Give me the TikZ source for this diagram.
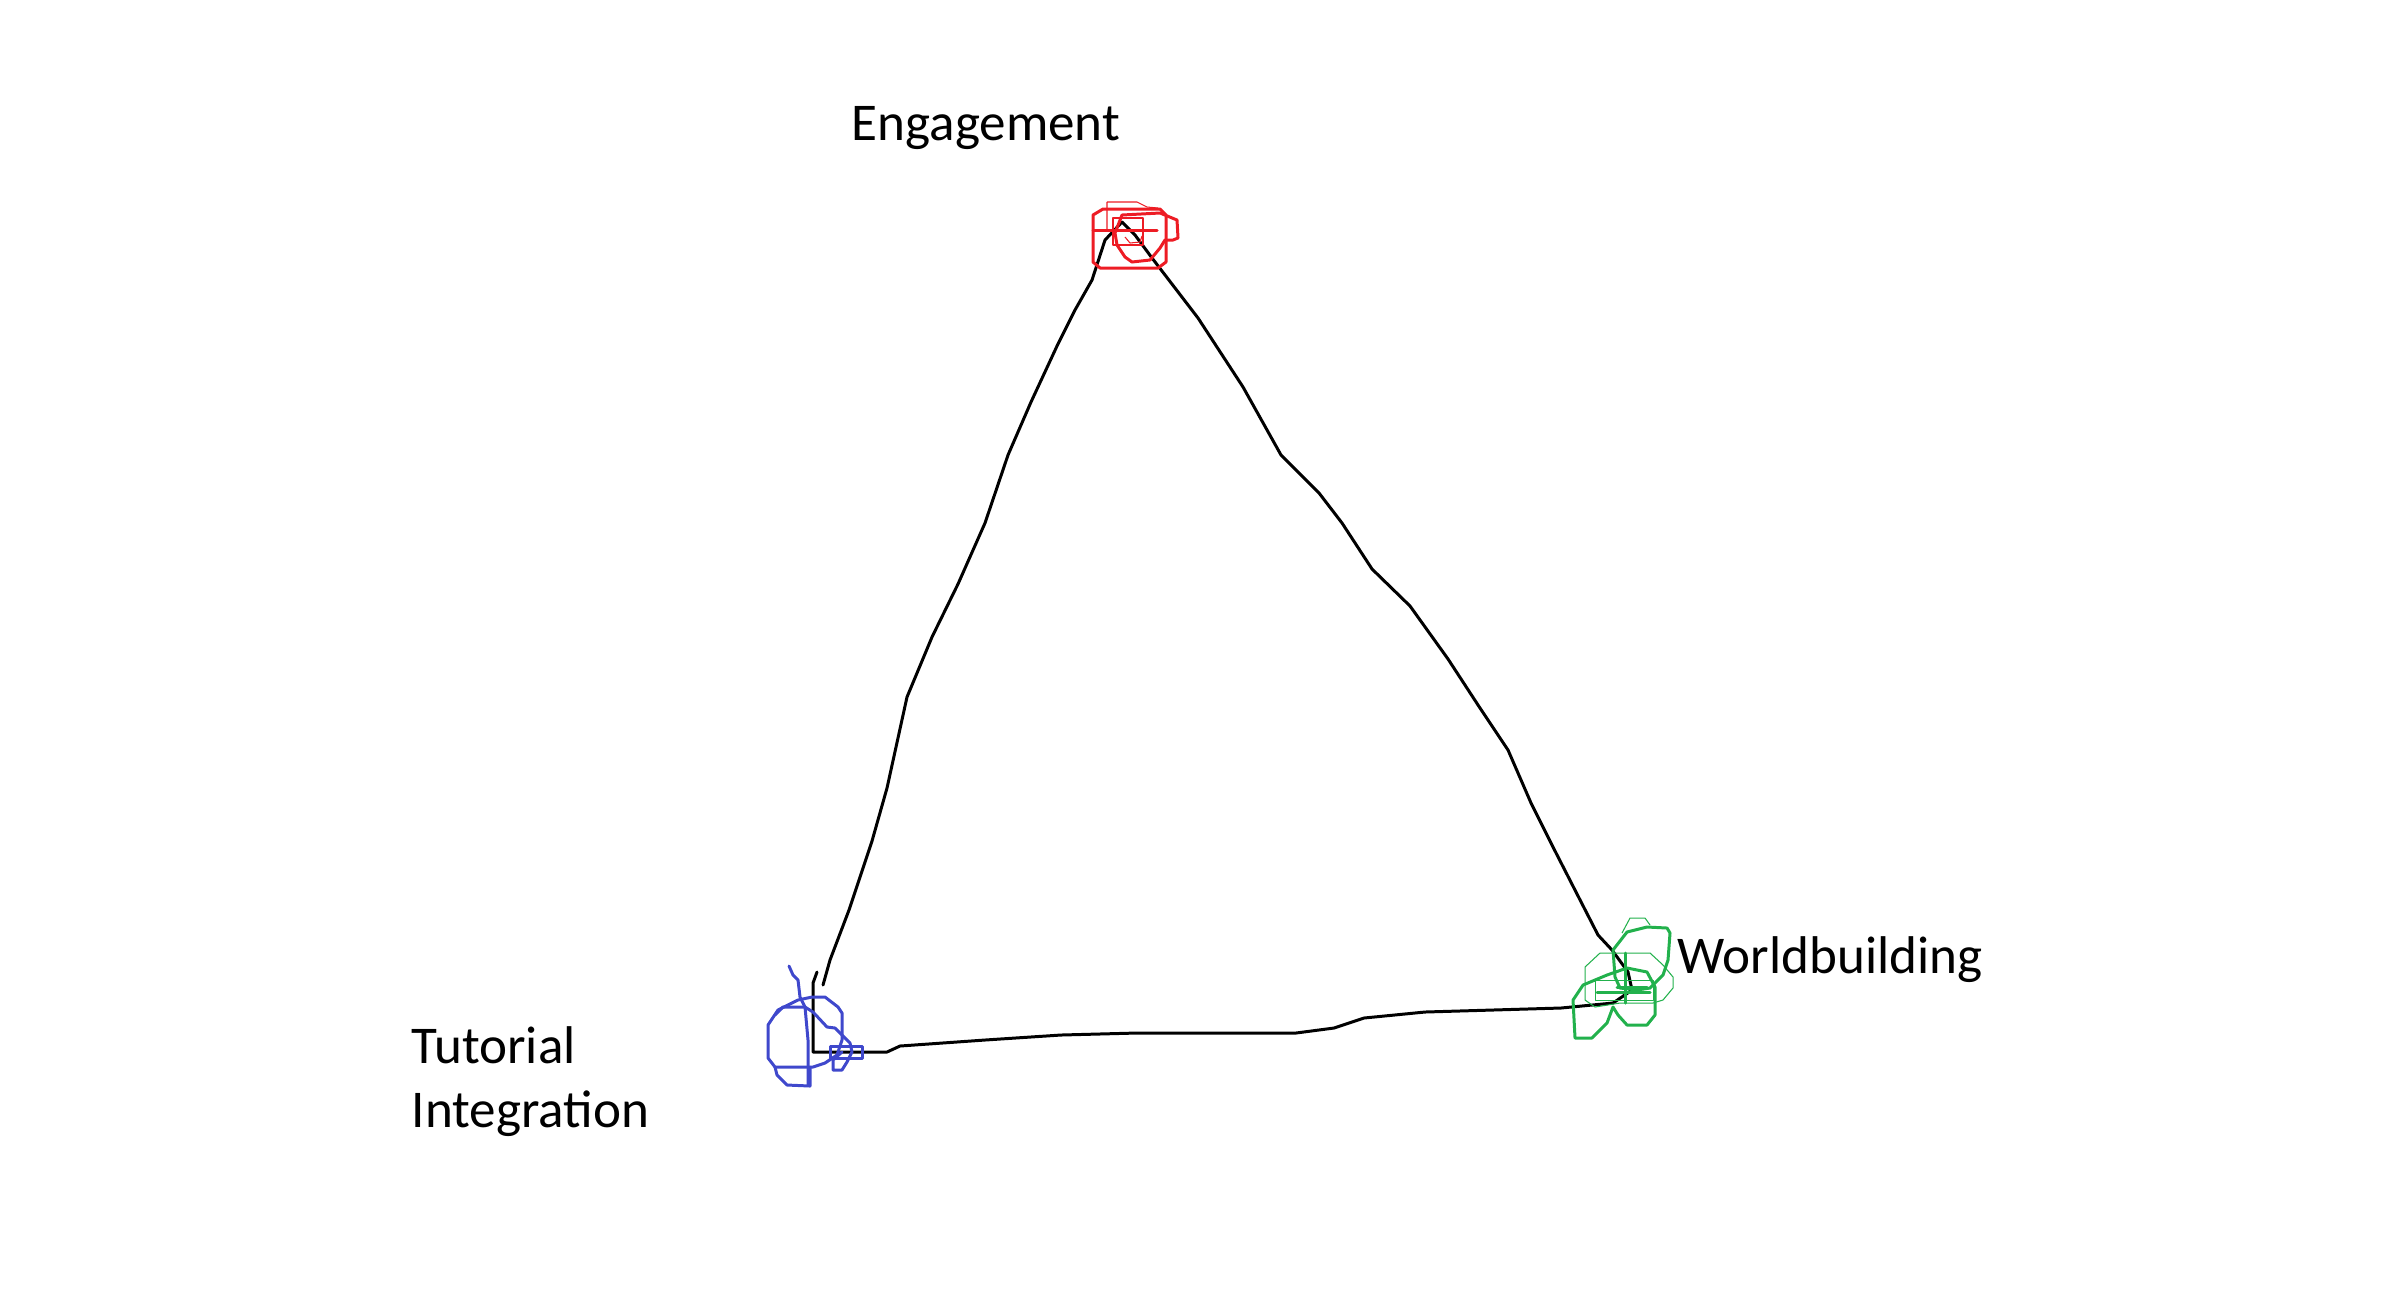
\documentclass[tikz,border=0pt]{standalone}
\usepackage{fontspec}
\setmainfont{Carlito}
\usetikzlibrary{
    positioning, % posicionamento relativo
    arrows.meta
}

\begin{document}
\begin{tikzpicture}[x=0.01cm, y=-0.01cm] % 1 unidade = 1 pixel da imagem

    % --- Definição de Estilos ---
    \tikzset{
        % Estilo para os rótulos dos vértices
        vertex_label/.style={
            inner sep=0pt,
            anchor=base west,
            font=\fontsize{15.1pt}{18.2pt}\selectfont,
            align=left
        },
        % Estilo para os lados do triângulo
        side_line/.style={
            draw=black,
            line width=0.85pt,
            line join=round,
            line cap=round
        },
        % Rabiscos coloridos nos vértices
        scribble_thick/.style={line width=0.85pt, line join=round, line cap=round},
        scribble_thin/.style={line width=0.3pt, line join=round}
    }
    \definecolor{paintred}{HTML}{ED1C24}
    \definecolor{paintgreen}{HTML}{22B14C}
    \definecolor{paintblue}{HTML}{3F48CC}

    % --- Área da figura ---
    \useasboundingbox (0,0) rectangle (2386,1296);

    % --- Vértices ---
    \coordinate (eng) at (1122,222);
    \coordinate (wb) at (1632,990);
    \coordinate (tut) at (813,1052);
    \coordinate (tut_end) at (823,985);
    \coordinate (tut_top) at (817,972);

    % --- Rótulos ---
    \node[vertex_label] (eng_label) at (851,140) {Engagement};
    \node[vertex_label] (wb_label) at (1677,973) {Worldbuilding};
    \node[vertex_label] (tut_label) at (411,1127) {Tutorial\\Integration};

    % --- Lados do triângulo ---
    \draw[side_line] (eng) -- (1105,240) -- (1092,280) -- (1075,310) -- (1057,346)
        -- (1031,402) -- (1008,455) -- (985,523) -- (958,584) -- (932,637)
        -- (907,697) -- (887,788) -- (872,841) -- (849,910) -- (830,960) -- (tut_end);
    \draw[side_line] (eng) -- (1135,235) -- (1152,258) -- (1198,318) -- (1243,387)
        -- (1281,455) -- (1319,493) -- (1342,523) -- (1372,569) -- (1410,606)
        -- (1448,659) -- (1478,705) -- (1508,750) -- (1531,803) -- (1554,849)
        -- (1577,894) -- (1598,935) -- (1612,950) -- (1628,972) -- (wb);
    \draw[side_line] (tut_top) -- (813,983) -- (tut) -- (887,1052) -- (900,1046)
        -- (985,1040) -- (1061,1035) -- (1137,1033) -- (1296,1033) -- (1334,1028)
        -- (1364,1018) -- (1425,1012) -- (1561,1008) -- (1613,1003) -- (wb);

    % --- Rabisco vermelho (Engagement) ---
    \draw[paintred, scribble_thick] (1093,215) -- (1103,209) -- (1160,209) -- (1166,215)
        -- (1166,262) -- (1158,268) -- (1100,268) -- (1093,262) -- cycle;
    \draw[paintred, scribble_thick] (1122,215) -- (1160,213) -- (1177,220) -- (1178,238)
        -- (1173,240) -- (1165,240) -- (1160,248) -- (1150,260) -- (1132,262)
        -- (1125,257) -- (1117,245) -- (1115,233) -- cycle;
    \draw[paintred, scribble_thick] (1093,230) -- (1157,230);
    \draw[paintred, scribble_thin] (1107,230) -- (1107,202) -- (1137,202) -- (1147,207) -- (1158,208);
    \draw[paintred, scribble_thin] (1113,218) rectangle (1143,245);
    \draw[paintred, scribble_thin] (1125,237) -- (1130,243) -- (1140,242) -- (1142,236);

    % --- Rabisco verde (Worldbuilding) ---
    \draw[paintgreen, scribble_thick] (1575,1038) -- (1573,1000) -- (1583,985) -- (1607,975)
        -- (1627,968) -- (1647,972) -- (1655,987) -- (1655,1015) -- (1647,1025)
        -- (1627,1025) -- (1618,1015) -- (1613,1007) -- (1607,1023) -- (1592,1038) -- cycle;
    \draw[paintgreen, scribble_thick] (1613,950) -- (1627,932) -- (1647,927) -- (1667,928)
        -- (1670,933) -- (1668,960) -- (1663,975) -- (1650,988) -- (1637,990)
        -- (1620,988) -- (1615,977) -- cycle;
    \draw[paintgreen, scribble_thick] (1625,953) -- (1625,1003);
    \draw[paintgreen, scribble_thick] (1597,992) -- (1650,992);
    \draw[paintgreen, scribble_thick] (1617,987) -- (1647,987);
    \draw[paintgreen, scribble_thin] (1585,967) -- (1600,953) -- (1650,953) -- (1663,965)
        -- (1673,977) -- (1673,988) -- (1663,1000) -- (1653,1003) -- (1620,1003)
        -- (1595,1007) -- (1585,1000) -- cycle;
    \draw[paintgreen, scribble_thin] (1622,933) -- (1630,918) -- (1645,918) -- (1650,925);
    \draw[paintgreen, scribble_thin] (1595,980) rectangle (1653,1000);

    % --- Rabisco azul (Tutorial Integration) ---
    \draw[paintblue, scribble_thick] (789,966) -- (793,975) -- (798,980) -- (800,997)
        -- (805,1007) -- (808,1040) -- (808,1085);
    \draw[paintblue, scribble_thick] (775,1067) -- (768,1058) -- (768,1025) -- (778,1010)
        -- (798,1000) -- (812,997) -- (825,997) -- (838,1007) -- (842,1013)
        -- (842,1040) -- (837,1055) -- (825,1063) -- (813,1067) -- cycle;
    \draw[paintblue, scribble_thick] (775,1067) -- (777,1075) -- (787,1085) -- (810,1086) -- (810,1067);
    \draw[paintblue, scribble_thick] (775,1015) -- (783,1007) -- (805,1007) -- (813,1012)
        -- (827,1027) -- (835,1028) -- (850,1043) -- (852,1052) -- (847,1062)
        -- (842,1070) -- (833,1070) -- (833,1060) -- (842,1052);
    \draw[paintblue, scribble_thick] (830,1046) rectangle (862,1058);

\end{tikzpicture}
\end{document}
